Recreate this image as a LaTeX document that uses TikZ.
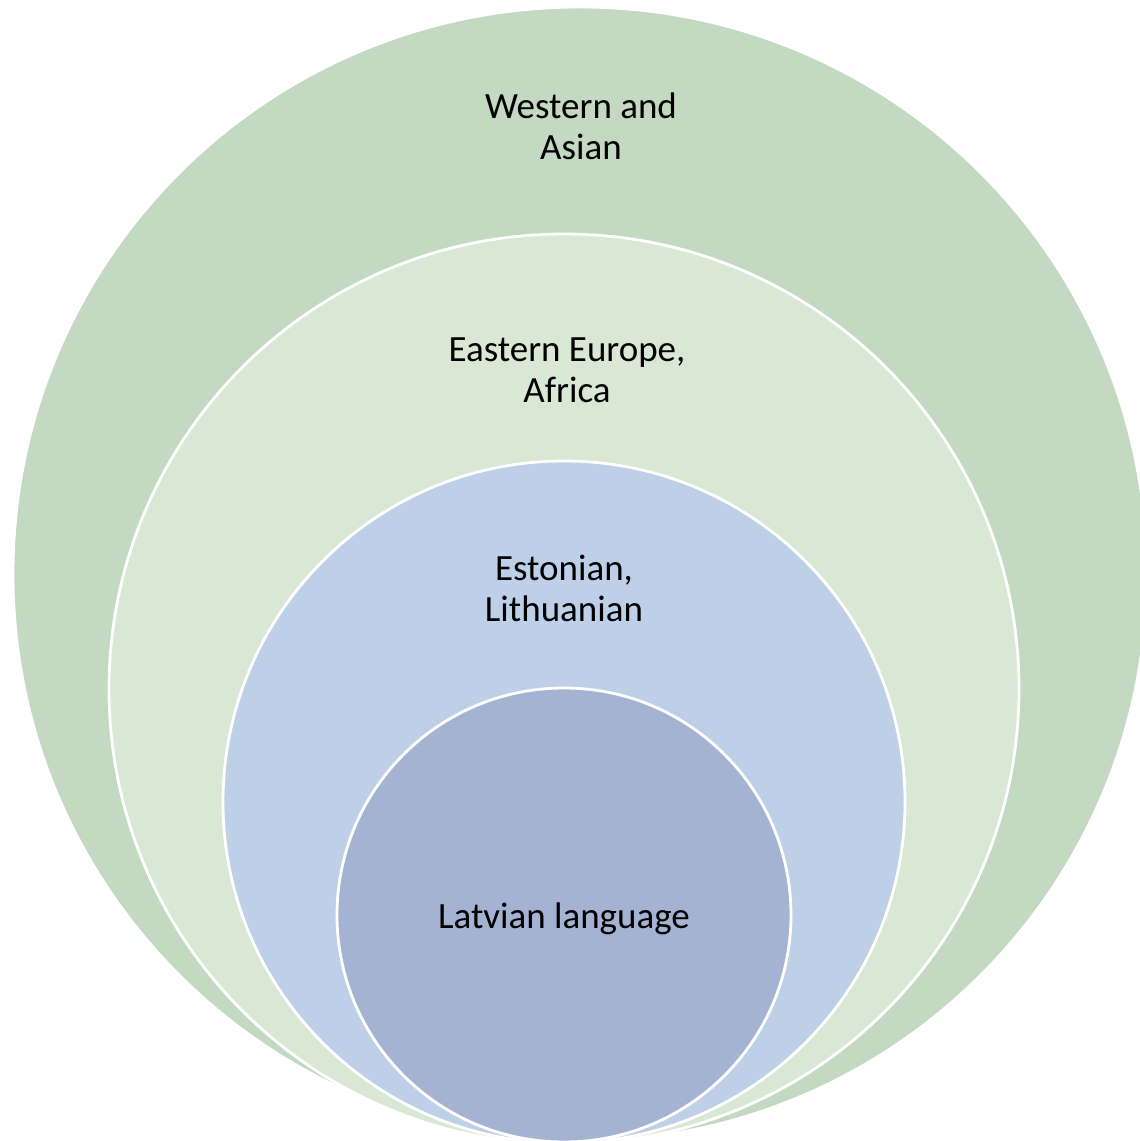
\documentclass[tikz,border=0pt]{standalone}
\usepackage{fontspec}
\setmainfont{Carlito}
\definecolor{ringA}{HTML}{C3D9C2}
\definecolor{ringB}{HTML}{D9E7D5}
\definecolor{ringC}{HTML}{BED0E8}
\definecolor{ringD}{HTML}{A5B3D3}
\tikzset{
  ring/.style={circle, draw=white, line width=2.8pt, inner sep=0pt, outer sep=0pt},
  lbl/.style={align=center, anchor=base, inner sep=0pt, font=\fontsize{37}{40.5}\selectfont, text=black}
}
\begin{document}
\begin{tikzpicture}[x=1pt,y=-1pt]
\useasboundingbox (0,0) rectangle (1140,1141);
\clip (0,0) rectangle (1140,1141);
\node[ring, fill=ringA, minimum size=1134pt] (c1) at (580,574) {};
\node[ring, fill=ringB, minimum size=910pt] (c2) at (564,689) {};
\node[ring, fill=ringC, minimum size=682pt] (c3) at (564,802) {};
\node[ring, fill=ringD, minimum size=454pt] (c4) at (564,915) {};
\node[lbl] (t1) at (581,159) {Western and\\Asian};
\node[lbl] (t2) at (567,402) {Eastern Europe,\\Africa};
\node[lbl] (t3) at (564,621) {Estonian,\\Lithuanian};
\node[lbl] (t4) at (564,928) {Latvian language};
\end{tikzpicture}
\end{document}
